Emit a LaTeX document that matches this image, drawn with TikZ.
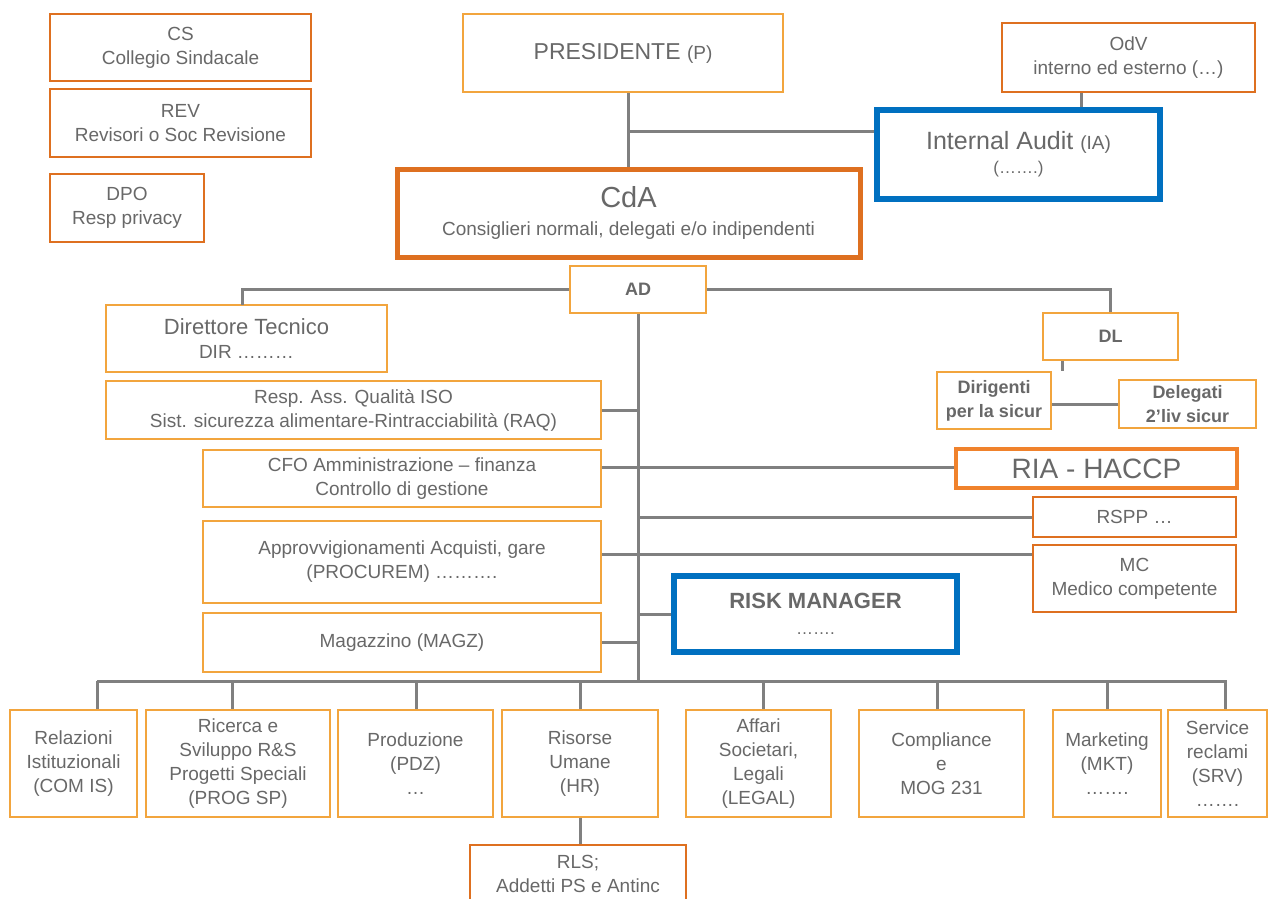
\documentclass[tikz,border=0pt]{standalone}
\usepackage{fontspec}
\setmainfont{Liberation Sans}
\usepackage{tikz}
\definecolor{lightor}{RGB}{242,165,62}
\definecolor{darkor}{RGB}{222,112,32}
\definecolor{riaor}{RGB}{240,130,44}
\definecolor{iablue}{RGB}{0,112,192}
\definecolor{txtgray}{RGB}{104,104,104}
\definecolor{linegray}{RGB}{128,128,128}
\newcommand{\fsz}[1]{\fontsize{#1}{24}\selectfont}
\tikzstyle{unit}=[rectangle, draw=lightor, line width=2.5pt, align=center, text=txtgray, inner sep=0pt, font=\fsz{19}]
\tikzstyle{board}=[unit, draw=darkor]
\tikzstyle{audit}=[unit, draw=iablue, line width=5.5pt]
\tikzstyle{dept}=[unit, minimum height=107]
\tikzstyle{link}=[draw=linegray, line width=3pt]

\begin{document}
\begin{tikzpicture}[x=1pt, y=-1pt]
    \useasboundingbox (0,0) rectangle (1269,899);
    % control bodies
    \node[board, minimum width=261, minimum height=67] (cs) at (180.5,47.5) {CS\\Collegio Sindacale};
    \node[board, minimum width=261, minimum height=68] (rev) at (180.5,123) {REV\\Revisori o Soc Revisione};
    \node[board, minimum width=154, minimum height=68] (dpo) at (127,208) {DPO\\Resp privacy};
    % top
    \node[unit, minimum width=320, minimum height=78] (pres) at (623,53) {\fsz{23}PRESIDENTE {\fsz{19}(P)}};
    \node[board, line width=5pt, minimum width=463, minimum height=88] (cda) at (628.5,213) {\fsz{29}CdA\\[4pt] Consiglieri  normali,  delegati e/o indipendenti};
    \node[audit, line width=6pt, minimum width=283, minimum height=89] (ia) at (1018.5,154.5) {\fsz{25}Internal Audit {\fsz{19}(IA)}\\ \fsz{17}(…….)};
    \node[board, minimum width=253, minimum height=69] (odv) at (1128.5,57.5) {OdV\\interno ed esterno (…)};
    \node[unit, minimum width=136, minimum height=47, font=\fsz{18}\bfseries] (ad) at (638,289.5) {AD};
    % safety
    \node[unit, minimum width=135, minimum height=47, font=\fsz{18}\bfseries] (dl) at (1110.5,336.5) {DL};
    \node[unit, minimum width=114, minimum height=57, font=\fsz{18}\bfseries] (dirig) at (994,400.5) {Dirigenti\\per la sicur};
    \node[unit, minimum width=137, minimum height=48, font=\fsz{18}\bfseries] (deleg) at (1187.5,404) {Delegati\\2’liv sicur};
    \node[unit, draw=riaor, line width=4pt, minimum width=281, minimum height=39] (ria) at (1096.5,468.5) {\fsz{28}RIA - HACCP};
    \node[board, minimum width=203, minimum height=40] (rspp) at (1134.5,517) {RSPP …};
    \node[board, minimum width=203, minimum height=67] (mc) at (1134.5,578.5) {MC\\Medico competente};
    \node[audit, minimum width=283, minimum height=76] (rm) at (815.5,614) {\fsz{22}\bfseries RISK  MANAGER\\[2pt] \fsz{17}…….};
    % staff on the left
    \node[unit, minimum width=281, minimum height=67] (dir) at (246.5,338.5) {\fsz{22}Direttore Tecnico\\ DIR ………};
    \node[unit, minimum width=495, minimum height=58] (raq) at (353.5,410) {Resp. Ass. Qualità ISO\\Sist. sicurezza alimentare-Rintracciabilità  (RAQ)};
    \node[unit, minimum width=398, minimum height=57] (cfo) at (402,478.5) {CFO Amministrazione  – finanza\\Controllo di gestione};
    \node[unit, minimum width=398, minimum height=82] (appr) at (402,562) {Approvvigionamenti  Acquisti, gare\\(PROCUREM) ……….};
    \node[unit, minimum width=398, minimum height=59] (mag) at (402,642.5) {Magazzino  (MAGZ)};
    % departments
    \node[dept, minimum width=127] (rel) at (73.5,763.5) {Relazioni\\Istituzionali\\(COM IS)};
    \node[dept, minimum width=184] (rs) at (238,763.5) {Ricerca e\\Sviluppo   R\&S\\Progetti Speciali\\(PROG SP)};
    \node[dept, minimum width=155] (pdz) at (415.5,763.5) {Produzione\\(PDZ)\\…};
    \node[dept, minimum width=156] (hr) at (580,763.5) {Risorse\\Umane\\(HR)};
    \node[dept, minimum width=145] (aff) at (758.5,763.5) {Affari\\Societari,\\Legali\\(LEGAL)};
    \node[dept, minimum width=165] (comp) at (941.5,763.5) {Compliance\\e\\MOG 231};
    \node[dept, minimum width=108] (mkt) at (1107,763.5) {Marketing\\(MKT)\\…….};
    \node[dept, minimum width=99] (srv) at (1217.5,763.5) {Service\\reclami\\(SRV)\\…….};
    \node[board, minimum width=216, minimum height=58] (rls) at (578,874) {RLS;\\Addetti PS e Antinc};
    % connectors
    \coordinate (pj) at (629,131);
    \coordinate (ox) at (1081,0);
    \coordinate (dx) at (1062,0);
    \coordinate (cy) at (0,467);
    \coordinate (mcy) at (0,554);
    \coordinate (bus) at (0,681);
    \draw[link] (cda.north) -- (cda.north |- pres.south);
    \draw[link] (pj) -- (pj -| ia.west);
    \draw[link] (odv.south -| ox) -- (ia.north -| ox);
    \draw[link] (ad.west) -| (242,305);
    \draw[link] (ad.east) -| (dl.north);
    \draw[link] (dl.south -| dx) -- (dirig.north -| dx);
    \draw[link] (dirig.east |- deleg.west) -- (deleg.west);
    \draw[link] (ad.south) -- (ad.south |- bus);
    \draw[link] (raq.east) -- (raq.east -| ad.south);
    \draw[link] (cfo.east |- cy) -- (ria.west |- cy);
    \draw[link] (ad.south |- rspp.west) -- (rspp.west);
    \draw[link] (appr.east |- mcy) -- (mc.west |- mcy);
    \draw[link] (ad.south |- rm.west) -- (rm.west);
    \draw[link] (mag.east) -- (mag.east -| ad.south);
    \draw[link] (97,681) -- (1226.5,681);
    \foreach \n/\x in {rel/97, rs/232, pdz/416, hr/580, aff/763, comp/937, mkt/1107, srv/1225} {
        \coordinate (drop) at (\x,681);
        \draw[link] (drop) -- (\n.north -| drop);
    }
    \draw[link] (hr.south) -- (hr.south |- rls.north);
\end{tikzpicture}
\end{document}
